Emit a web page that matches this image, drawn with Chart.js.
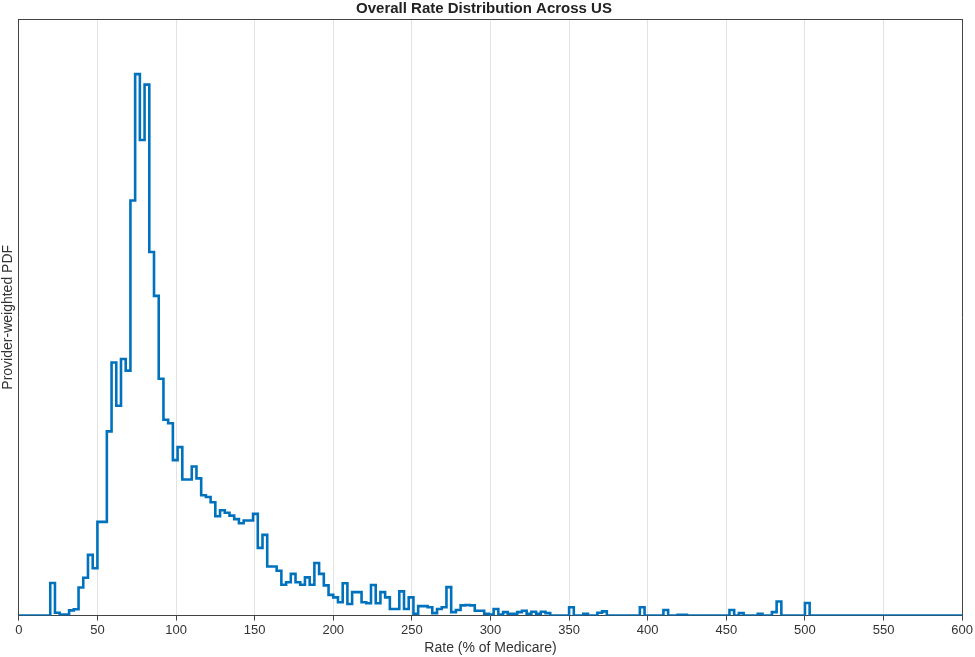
<!DOCTYPE html>
<html>
<head>
<script src="https://cdn.jsdelivr.net/npm/chart.js@4"></script>
<style>
  html, body { margin: 0; padding: 0; background: #fff; }
  #wrap { width: 975px; height: 657px; }
</style>
</head>
<body>
<div id="wrap"><canvas id="c"></canvas></div>
<script>
// histogram bins: 3 units wide, first bin starts at 20
const binStart = 20;
const binWidth = 3;
const pdf = [
  93, 8, 3, 3, 15, 18, 80, 108, 173, 135,
  267, 267, 525, 721, 598, 731, 698, 1183, 1543, 1355,
  1513, 1036, 911, 675, 558, 548, 443, 480, 388, 388,
  425, 391, 343, 338, 323, 283, 300, 293, 285, 275,
  263, 271, 271,
  290, 193, 230, 140, 140, 128, 88, 95, 119, 95,
  88, 109, 88, 150, 119, 86, 59, 52, 38, 92,
  33, 67, 67, 38, 35, 87, 35, 67, 52, 19,
  19, 69, 19, 52, 5, 27, 27, 24, 7, 19,
  24, 81, 10, 16, 29, 30, 29, 14, 14, 5,
  3, 19, 3,
  10, 5, 5, 10, 14, 5, 11, 5, 11, 7,
  0, 0, 0, 0, 24, 0, 0, 5, 0, 0,
  8, 12, 0, 0, 0, 0, 0, 0, 0, 24,
  0, 0, 0, 0, 16, 0, 0, 2, 2, 0,
  0, 0, 0, 0, 0, 0, 0, 0, 16, 0,
  7, 0, 0, 0, 5, 0, 0, 10, 40, 0,
  0, 0, 0, 0, 36,
  0, 0, 0, 0, 0, 0, 0, 0, 0, 0,
  0, 0, 0, 0, 0, 0, 0, 0, 0, 0,
  0, 0, 0, 0, 0, 0, 0, 0, 0, 0,
  0, 0, 0
];
const xTicks = [0, 50, 100, 150, 200, 250, 300, 350, 400, 450, 500, 550, 600];

// each point sits at a bin's right edge; the step runs left back to the previous point
const pts = [{ x: 0, y: 0 }, { x: binStart, y: 0 }];
pdf.forEach((v, i) => pts.push({ x: binStart + (i + 1) * binWidth, y: v }));

const axisColor = '#444';
const font = 'Arial, "Liberation Sans"';
new Chart(document.getElementById('c'), {
  type: 'line',
  data: { datasets: [{ data: pts, stepped: 'after', borderColor: '#0072BD', borderWidth: 2.6, pointRadius: 0, fill: false }] },
  options: {
    responsive: true, maintainAspectRatio: false, animation: false,
    layout: { padding: { left: 0, right: 7, top: 0, bottom: 0 } },
    plugins: {
      legend: { display: false }, tooltip: { enabled: false },
      title: { display: true, text: 'Overall Rate Distribution Across US', color: '#222',
        font: { family: font, size: 15, weight: 'bold' }, padding: { top: 0, bottom: 1 } }
    },
    scales: {
      x: {
        type: 'linear', min: 0, max: 600,
        afterBuildTicks: a => { a.ticks = xTicks.map(v => ({ value: v })); },
        grid: { color: '#e3e3e3', tickLength: 5, tickColor: axisColor },
        border: { color: axisColor },
        ticks: { color: '#333', font: { family: font, size: 13 }, maxRotation: 0, padding: 2 },
        title: { display: true, text: 'Rate (% of Medicare)', color: '#333', font: { family: font, size: 14 }, padding: { top: 0, bottom: 0 } }
      },
      x2: {
        type: 'linear', position: 'top', min: 0, max: 600,
        grid: { display: false, drawTicks: false }, border: { color: axisColor }, ticks: { display: false, padding: 0 }
      },
      y: {
        min: 0, max: 1700,
        grid: { display: false, drawTicks: false }, border: { color: axisColor },
        ticks: { display: false, padding: 0 },
        title: { display: true, text: 'Provider-weighted PDF', color: '#333', font: { family: font, size: 14 }, padding: { top: 0, bottom: 2 } }
      },
      y2: {
        position: 'right', min: 0, max: 1700,
        grid: { display: false, drawTicks: false }, border: { color: axisColor }, ticks: { display: false, padding: 0 }
      }
    }
  }
});
</script>
</body>
</html>
